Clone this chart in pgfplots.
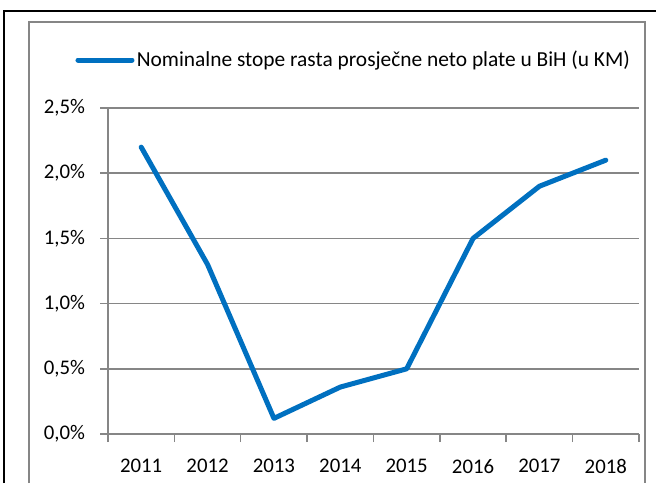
\documentclass[border=0pt]{standalone}
\usepackage{pgfplots}
\pgfplotsset{compat=1.18}
\usepackage{fontspec}
\setmainfont{Carlito}
\definecolor{lineblue}{HTML}{0070C0}
\definecolor{gridgray}{HTML}{868686}
\begin{document}
\begin{tikzpicture}
\useasboundingbox (0,0) rectangle (328pt,241.5pt);
\draw[black, line width=1pt] (2pt,0pt) -- (2pt,236pt) -- (328pt,236pt);
\draw[gridgray, line width=0.75pt] (14.5pt,0pt) -- (14.5pt,230.5pt) -- (322.5pt,230.5pt) -- (322.5pt,0pt);
\begin{axis}[
  at={(54pt,24.5pt)}, anchor=south west,
  scale only axis, width=265.5pt, height=163pt,
  xmin=-0.5, xmax=7.5, ymin=0, ymax=2.5,
  xtick={0,...,7},
  xticklabels={2011,2012,2013,2014,2015,2016,2017,2018},
  minor xtick={-0.5,0.5,...,7.5},
  ytick={0,0.5,...,2.5},
  /pgf/number format/assume math mode=true,
  yticklabel={\pgfmathprintnumber[fixed,fixed zerofill,precision=1,use comma]{\tick}\%},
  axis x line*=bottom, axis y line*=left,
  axis line style={gridgray, line width=0.75pt, -},
  tick align=outside,
  x tick style={draw=none},
  minor x tick style={draw=gridgray, line width=0.75pt},
  y tick style={draw=gridgray, line width=0.75pt},
  major tick length=4pt, minor tick length=4pt,
  ymajorgrids, grid style={gridgray, line width=0.75pt},
  tick label style={font=\fontsize{10.4}{12}\selectfont, text=black},
  xticklabel style={yshift=-5pt},
  yticklabel style={xshift=-4pt},
  legend style={at={(rel axis cs:-0.062,1.147)}, anchor=west, draw=none, fill=none,
    inner sep=0pt, font=\fontsize{10.7}{12}\selectfont,
    nodes={inner sep=1.2pt}},
  legend image code/.code={\draw[#1, line cap=round] (0pt,0pt) -- (27pt,0pt);},
  clip=false,
]
\addplot[lineblue, line width=2.5pt, line join=round, line cap=round] coordinates {
  (0,2.20) (1,1.30) (2,0.12) (3,0.36) (4,0.50) (5,1.50) (6,1.90) (7,2.10)
};
\addlegendentry{Nominalne stope rasta prosječne neto plate u BiH (u KM)}
\end{axis}
\end{tikzpicture}
\end{document}
